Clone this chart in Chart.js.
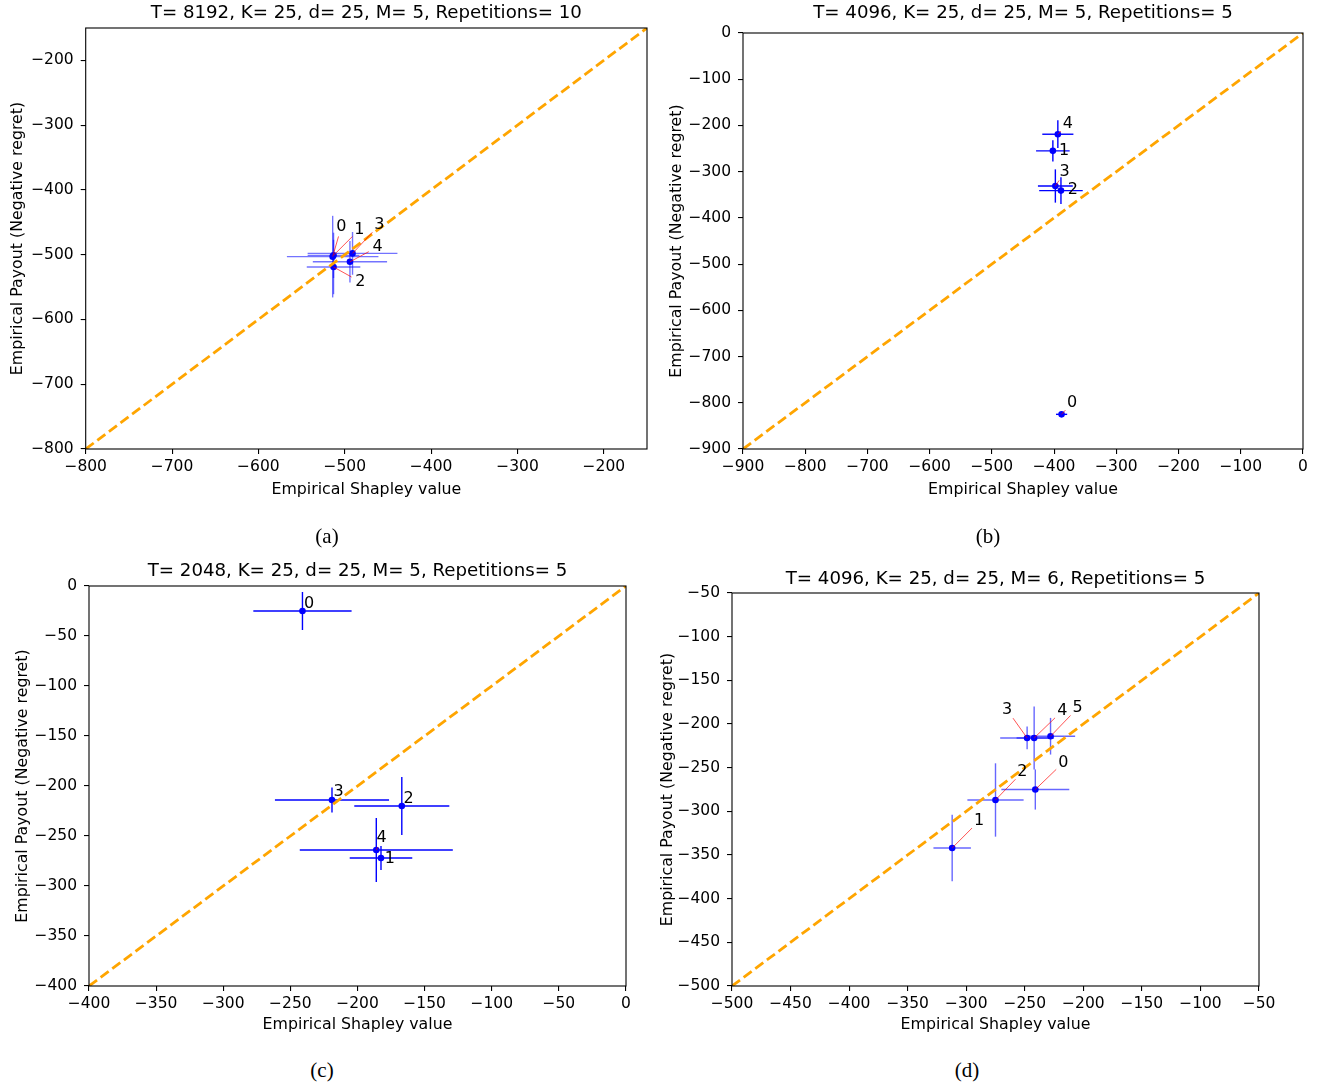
<!DOCTYPE html>
<html>
<head>
<meta charset="utf-8">
<script src="https://cdn.jsdelivr.net/npm/chart.js"></script>
<style>
body { margin: 0; background: #fff; }
#fig { position: relative; width: 1328px; height: 1082px; background: #fff; overflow: hidden; }
#fig canvas { position: absolute; }
.cap { position: absolute; font-family: 'Liberation Serif', 'DejaVu Serif', serif; font-size: 21px; color: #000; transform: translate(-50%, -50%); }
</style>
</head>
<body>
<div id="fig">
  <canvas id="chartA" width="664" height="500" style="left:0px;top:0px;width:664px;height:500px"></canvas>
  <canvas id="chartB" width="664" height="500" style="left:664px;top:0px;width:664px;height:500px"></canvas>
  <canvas id="chartC" width="664" height="500" style="left:0px;top:541px;width:664px;height:500px"></canvas>
  <canvas id="chartD" width="678" height="500" style="left:650px;top:541px;width:678px;height:500px"></canvas>
  <div class="cap" style="left:327px;top:536px">(a)</div>
  <div class="cap" style="left:988px;top:536px">(b)</div>
  <div class="cap" style="left:322px;top:1070px">(c)</div>
  <div class="cap" style="left:967px;top:1070px">(d)</div>
</div>
<script>
// (a) T=8192, M=5, 10 repetitions
const aAgents = ['0', '1', '2', '3', '4'];
const aShapley = [-514, -513, -513, -491, -494];
const aPayout = [-503, -501, -519, -498, -511];
const aShapleyErr = [53, 30, 31, 52, 43];
const aPayoutErr = [63, 35, 42, 33, 32];
const aLabelX = [-504, -483, -482, -460, -462];
const aLabelY = [-457, -461, -542, -454, -488];
const aTicks = [-800, -700, -600, -500, -400, -300, -200];

// (b) T=4096, M=5, 5 repetitions
const bAgents = ['0', '1', '2', '3', '4'];
const bShapley = [-388, -402, -389, -398, -394];
const bPayout = [-825, -255, -341, -331, -219];
const bShapleyErr = [9, 27, 35, 28, 25];
const bPayoutErr = [3, 23, 29, 36, 30];
const bLabelX = [-371, -384, -370, -383, -378];
const bLabelY = [-800, -255, -340, -301, -197];
const bTicks = [-900, -800, -700, -600, -500, -400, -300, -200, -100, 0];

// (c) T=2048, M=5, 5 repetitions
const cAgents = ['0', '1', '2', '3', '4'];
const cShapley = [-241, -182.5, -167, -219, -186];
const cPayout = [-25, -272, -220, -214, -264];
const cShapleyErr = [36.6, 23.3, 35.4, 42.5, 57];
const cPayoutErr = [19, 12, 29, 12.5, 32];
const cLabelX = [-236, -176, -162, -214, -182];
const cLabelY = [-18, -273, -213, -206, -252];
const cTicks = [-400, -350, -300, -250, -200, -150, -100, -50, 0];

// (d) T=4096, M=6, 5 repetitions
const dAgents = ['0', '1', '2', '3', '4', '5'];
const dShapley = [-241, -312, -275, -248, -242, -228];
const dPayout = [-275, -342, -287, -216, -216, -214];
const dShapleyErr = [29, 16, 24, 23, 15, 21];
const dPayoutErr = [23, 38, 42, 13, 36, 21];
const dLabelX = [-217, -289, -252, -265, -218, -205];
const dLabelY = [-244, -311, -255, -184, -185, -182];
const dTicks = [-500, -450, -400, -350, -300, -250, -200, -150, -100, -50];

Chart.defaults.font.family = "'DejaVu Sans', sans-serif";
Chart.defaults.color = '#000';

function fmt(v) {
  return v < 0 ? '\u2212' + Math.abs(v) : String(v);
}

const framePlugin = {
  id: 'frame',
  afterDraw(chart) {
    const a = chart.chartArea;
    const ctx = chart.ctx;
    ctx.save();
    ctx.strokeStyle = '#000';
    ctx.lineWidth = 1.1;
    ctx.strokeRect(a.left, a.top, a.right - a.left, a.bottom - a.top);
    ctx.restore();
  }
};

const errorBarPlugin = {
  id: 'errorBars',
  beforeDatasetsDraw(chart, args, o) {
    const ctx = chart.ctx;
    const x = chart.scales.x, y = chart.scales.y;
    ctx.save();
    ctx.strokeStyle = o.color;
    ctx.lineWidth = 1.4;
    for (let i = 0; i < o.xs.length; i++) {
      const px = x.getPixelForValue(o.xs[i]);
      const py = y.getPixelForValue(o.ys[i]);
      ctx.beginPath();
      ctx.moveTo(x.getPixelForValue(o.xs[i] - o.xerr[i]), py);
      ctx.lineTo(x.getPixelForValue(o.xs[i] + o.xerr[i]), py);
      ctx.stroke();
      ctx.beginPath();
      ctx.moveTo(px, y.getPixelForValue(o.ys[i] - o.yerr[i]));
      ctx.lineTo(px, y.getPixelForValue(o.ys[i] + o.yerr[i]));
      ctx.stroke();
    }
    ctx.restore();
  }
};

const labelPlugin = {
  id: 'agentLabels',
  afterDatasetsDraw(chart, args, o) {
    const ctx = chart.ctx;
    const x = chart.scales.x, y = chart.scales.y;
    ctx.save();
    for (let i = 0; i < o.names.length; i++) {
      const px = x.getPixelForValue(o.xs[i]);
      const py = y.getPixelForValue(o.ys[i]);
      const lx = x.getPixelForValue(o.lx[i]);
      const ly = y.getPixelForValue(o.ly[i]);
      const dx = lx - px, dy = ly - py;
      const dist = Math.sqrt(dx * dx + dy * dy);
      const stop = dist - 10;
      if (stop > 3) {
        ctx.strokeStyle = 'rgba(255,0,0,0.85)';
        ctx.lineWidth = 0.8;
        ctx.beginPath();
        ctx.moveTo(px, py);
        ctx.lineTo(px + dx * stop / dist, py + dy * stop / dist);
        ctx.stroke();
      }
      ctx.fillStyle = '#000';
      ctx.font = "16px 'DejaVu Sans'";
      ctx.textAlign = 'center';
      ctx.textBaseline = 'middle';
      ctx.fillText(o.names[i], lx, ly);
    }
    ctx.restore();
  }
};

function makeChart(id, cfg) {
  const pts = cfg.xs.map((v, i) => ({x: v, y: cfg.ys[i]}));
  const diag = [{x: cfg.ticks[0], y: cfg.ticks[0]}, {x: cfg.max, y: cfg.max}];
  const tickOpts = {
    font: {size: 15.5},
    color: '#000',
    autoSkip: false,
    maxRotation: 0,
    includeBounds: false,
    callback: v => fmt(v)
  };
  const gridOpts = {drawOnChartArea: false, drawTicks: true, tickLength: 5, color: '#000', lineWidth: 1.1};
  return new Chart(document.getElementById(id), {
    type: 'scatter',
    data: {
      datasets: [
        {
          type: 'line',
          data: diag,
          borderColor: '#FFA500',
          borderWidth: 2.8,
          borderDash: [10, 4.5],
          pointRadius: 0,
          fill: false,
          order: 0
        },
        {
          data: pts,
          pointRadius: 3.3,
          pointBackgroundColor: '#0000ff',
          pointBorderColor: '#0000ff',
          pointBorderWidth: 0,
          order: 1
        }
      ]
    },
    options: {
      responsive: false,
      animation: false,
      events: [],
      layout: {padding: {left: 0, right: cfg.padRight, top: 0, bottom: 0}},
      scales: {
        x: {
          type: 'linear',
          min: cfg.ticks[0],
          max: cfg.max,
          afterBuildTicks: s => { s.ticks = cfg.ticks.map(v => ({value: v})); },
          afterFit: s => { s.height = cfg.xHeight; },
          ticks: Object.assign({padding: 4}, tickOpts),
          grid: gridOpts,
          border: {display: false},
          title: {display: true, text: 'Empirical Shapley value', font: {size: 15.8}, color: '#000',
                  padding: {top: 0, bottom: cfg.xTitlePad}}
        },
        y: {
          type: 'linear',
          min: cfg.ticks[0],
          max: cfg.max,
          afterBuildTicks: s => { s.ticks = cfg.ticks.map(v => ({value: v})); },
          afterFit: s => { s.width = cfg.yWidth; },
          ticks: Object.assign({padding: 7}, tickOpts),
          grid: gridOpts,
          border: {display: false},
          title: {display: true, text: 'Empirical Payout (Negative regret)', font: {size: 15.8}, color: '#000',
                  padding: {top: cfg.yTitlePad, bottom: 0}}
        }
      },
      plugins: {
        legend: {display: false},
        tooltip: {enabled: false},
        title: {
          display: true,
          text: cfg.title,
          fullSize: false,
          color: '#000',
          font: {size: 18.2, weight: 'normal'},
          padding: {top: cfg.titleTop, bottom: cfg.titleBottom}
        },
        errorBars: {xs: cfg.xs, ys: cfg.ys, xerr: cfg.xerr, yerr: cfg.yerr, color: cfg.barColor},
        agentLabels: {names: cfg.names, xs: cfg.xs, ys: cfg.ys, lx: cfg.lx, ly: cfg.ly}
      }
    },
    plugins: [errorBarPlugin, labelPlugin, framePlugin]
  });
}

makeChart('chartA', {
  title: 'T= 8192, K= 25, d= 25, M= 5, Repetitions= 10',
  names: aAgents, xs: aShapley, ys: aPayout, xerr: aShapleyErr, yerr: aPayoutErr,
  lx: aLabelX, ly: aLabelY, ticks: aTicks, max: -150,
  barColor: 'rgba(0,0,255,0.55)',
  padRight: 17, yWidth: 85.7, xHeight: 51, xTitlePad: 0.5, yTitlePad: 8.5,
  titleTop: 2.6, titleBottom: 3.56
});

makeChart('chartB', {
  title: 'T= 4096, K= 25, d= 25, M= 5, Repetitions= 5',
  names: bAgents, xs: bShapley, ys: bPayout, xerr: bShapleyErr, yerr: bPayoutErr,
  lx: bLabelX, ly: bLabelY, ticks: bTicks, max: 0,
  barColor: '#0000ff',
  padRight: 25, yWidth: 79, xHeight: 51, xTitlePad: 0.5, yTitlePad: 3.5,
  titleTop: 2.6, titleBottom: 8.56
});

makeChart('chartC', {
  title: 'T= 2048, K= 25, d= 25, M= 5, Repetitions= 5',
  names: cAgents, xs: cShapley, ys: cPayout, xerr: cShapleyErr, yerr: cPayoutErr,
  lx: cLabelX, ly: cLabelY, ticks: cTicks, max: 0,
  barColor: '#0000ff',
  padRight: 38, yWidth: 89, xHeight: 55, xTitlePad: 6.5, yTitlePad: 13.5,
  titleTop: 19.6, titleBottom: 3.56
});

makeChart('chartD', {
  title: 'T= 4096, K= 25, d= 25, M= 6, Repetitions= 5',
  names: dAgents, xs: dShapley, ys: dPayout, xerr: dShapleyErr, yerr: dPayoutErr,
  lx: dLabelX, ly: dLabelY, ticks: dTicks, max: -50,
  barColor: 'rgba(0,0,255,0.6)',
  padRight: 69, yWidth: 82, xHeight: 55, xTitlePad: 6.5, yTitlePad: 8.5,
  titleTop: 27.6, titleBottom: 2.56
});
</script>
</body>
</html>
